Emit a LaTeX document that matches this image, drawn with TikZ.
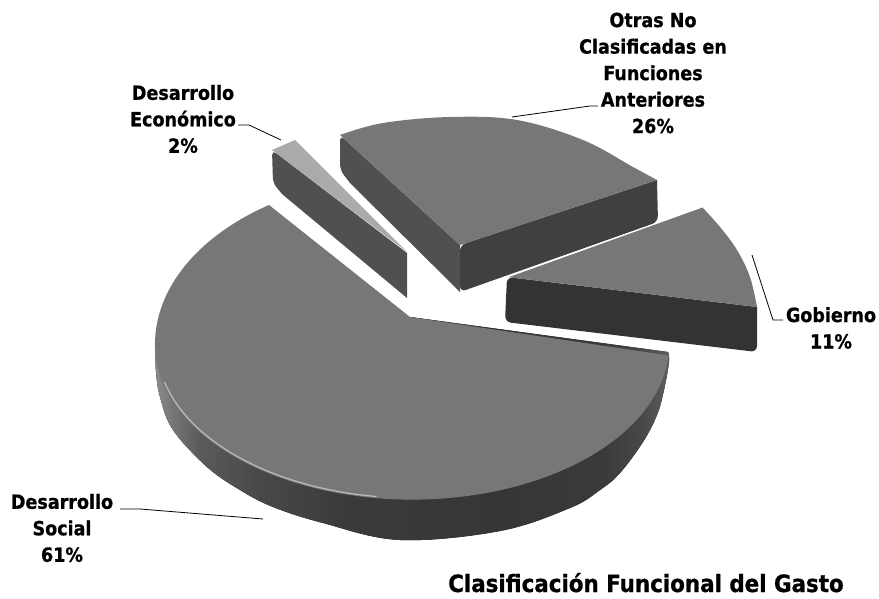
\documentclass[tikz,border=0pt]{standalone}
\usepackage{fontspec}
\newfontfamily\labfont{DejaVu Sans Condensed Bold}[FakeBold=0.8]
\definecolor{rimA}{HTML}{8C8C8C}
\definecolor{rimB}{HTML}{787878}
\definecolor{rimC}{HTML}{5A5A5A}
\definecolor{rimD}{HTML}{484848}
\definecolor{rimE}{HTML}{3A3A3A}
\definecolor{rimF}{HTML}{363636}
\definecolor{rimG}{HTML}{606060}
\definecolor{topgray}{HTML}{777777}
\definecolor{econtop}{HTML}{AAAAAA}
\definecolor{econside}{HTML}{505050}
\definecolor{otrasleft}{HTML}{505050}
\definecolor{otrasfront}{HTML}{404040}
\definecolor{gobfront}{HTML}{333333}
\pgfdeclarehorizontalshading{rimshade}{100bp}{%
  color(0bp)=(rimA); color(25bp)=(rimA); color(26.5bp)=(rimB); color(29.4bp)=(rimC);
  color(35.3bp)=(rimD); color(44bp)=(rimE); color(58.7bp)=(rimF); color(68.5bp)=(rimE);
  color(72.4bp)=(rimD); color(75bp)=(rimG); color(100bp)=(rimG)}
\tikzset{
  lab/.style={font=\labfont\fontsize{19.5}{26.5}\selectfont, align=center, inner sep=0pt},
  leader/.style={draw=black, line width=0.8pt},
  topface/.style={fill=topgray},
}
\begin{document}
\begin{tikzpicture}[x=1pt,y=-1pt]
\useasboundingbox (0,0) rectangle (879,599);
% ---------- Otras (26%) ----------
\fill[otrasleft] (340,135) -- (460,245) -- (460,292) -- (350,183) [rounded corners=6pt] -- (340,170) -- cycle;
\fill[otrasfront] (460,245) -- (657,180) [rounded corners=6pt] -- (658,222) -- (460,292) -- cycle;
\fill[topface] (460,245) -- (340,135) -- plot[smooth, tension=0.6] coordinates {(340,135) (383,123) (450,117) (517,120) (583,140) (633,167) (657,180)} -- cycle;
% ---------- Desarrollo Economico (2%) ----------
\fill[econside] (272,150) -- (407,253) -- (407,298) -- (282,194) [rounded corners=5pt] -- (273,183) -- cycle;
\fill[econtop] (272,150) -- (295,140) -- (407,252) -- cycle;
% ---------- Gobierno (11%) ----------
\fill[gobfront] (507,277) -- (757,307) [rounded corners=6pt] -- (757,352) -- (505,322) -- cycle;
\fill[topface] (507,277) -- (702,207) -- plot[smooth, tension=0.6] coordinates {(702,207) (720,227) (737,250) (750,277) (757,307)} -- cycle;
\draw[white, line width=1.2pt] (507,277) -- (702,207);
% ---------- Desarrollo Social (61%) ----------
\fill[shading=rimshade] (410,317) -- plot[smooth, tension=0.6] coordinates {(155,345) (156,372) (160,397) (173,430) (207,467) (240,490) (273,507) (323,523) (400,540) (500,531) (570,508) (600,490) (620,473) (643,442) (657,415) (664,390) (669,362) (668,352)} -- cycle;
\fill[topface] (410,317) -- (269,205) arc[start angle=-123.8, end angle=-180, x radius=257, y radius=168] arc[start angle=180, end angle=4, x radius=257, y radius=155] -- cycle;
\draw[white, opacity=0.5, line width=1.2pt] (412,345) ++(166:255 and 153) arc[start angle=166, end angle=98, x radius=255, y radius=153];
% ---------- labels ----------
\node[lab] (lsoc) at (62,528) {Desarrollo\\Social\\61\%};
\node[lab] (leco) at (183,119) {Desarrollo\\Económico\\2\%};
\node[lab] (lotr) at (653,73) {Otras No\\Clasificadas en\\Funciones\\Anteriores\\26\%};
\node[lab] (lgob) at (831,328) {Gobierno\\11\%};
\node[font=\labfont\fontsize{23.8}{28}\selectfont, inner sep=0pt, anchor=base west] (title) at (448,592) {Clasificación Funcional del Gasto};
% ---------- leaders ----------
\coordinate (ps) at (263,519);
\coordinate (pe) at (281,140);
\coordinate (po) at (512,117);
\coordinate (pg) at (752,255);
\draw[leader] (120,509) -- (140,509) -- (ps);
\draw[leader] (238,125) -- (249,125) -- (pe);
\draw[leader] (598,106) -- (590,106) -- (po);
\draw[leader] (783,320) -- (773,320) -- (pg);
\end{tikzpicture}
\end{document}
